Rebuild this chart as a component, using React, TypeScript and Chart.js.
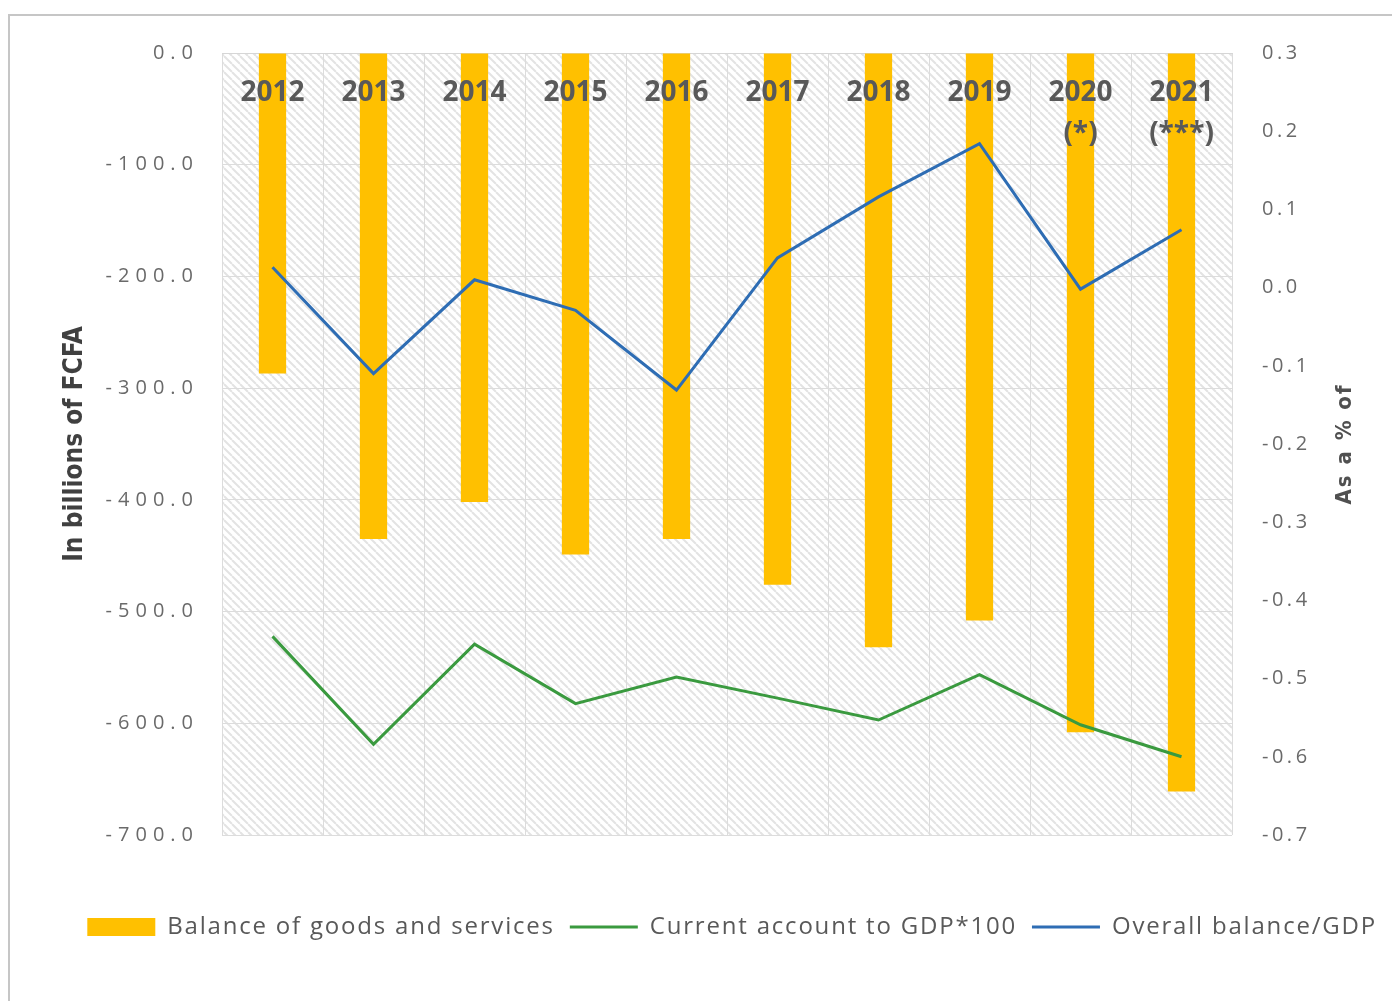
import React, { useEffect, useRef } from 'react';
import { Chart, registerables } from 'chart.js';

Chart.register(...registerables);

// ---------- data ----------
const years: (string | string[])[] = ['2012', '2013', '2014', '2015', '2016', '2017', '2018', '2019', ['2020', '(*)'], ['2021', '(***)']];
const balanceGoodsServices = [-287, -435, -402, -449, -435, -476, -532, -508, -608, -661];
const currentAccountGdp100 = [-0.446, -0.584, -0.456, -0.532, -0.498, -0.525, -0.553, -0.495, -0.559, -0.6];
const overallBalanceGdp = [0.026, -0.11, 0.01, -0.029, -0.131, 0.038, 0.116, 0.184, -0.002, 0.074];
const seriesNames = ['Balance of goods and services', 'Current account to GDP*100', 'Overall balance/GDP'];
const leftAxisRange = [-700, 0, 100];
const rightAxisRange = [-0.7, 0.3, 0.1];
const leftTitle = 'In billions of FCFA';
const rightTitle = 'As a % of';

const LS_LEGEND = '1.8px';
const LS_LEFT = '6px';
const LS_RIGHT = '3.5px';
const LS_X = '0px';

const fmt = (v: any) => {
  const n = Number(v);
  if (Math.abs(n) < 1e-9) return '0.0';
  return n.toFixed(1);
};

export default function App() {
  const ref = useRef<HTMLCanvasElement>(null);

  useEffect(() => {
    const canvas = ref.current!;
    const pc = document.createElement('canvas');
    pc.width = 8;
    pc.height = 8;
    const pctx = pc.getContext('2d')!;
    pctx.strokeStyle = '#e3e3e3';
    pctx.lineWidth = 2;
    for (const k of [-8, 0, 8]) {
      pctx.beginPath();
      pctx.moveTo(k, 0);
      pctx.lineTo(k + 8, 8);
      pctx.stroke();
    }

    const patchScale = (scale: any, ls: string) => {
      if (!scale || scale.__lsPatched) return;
      const orig = scale.drawLabels.bind(scale);
      scale.drawLabels = (area: any) => {
        const c = scale.ctx;
        const prev = c.letterSpacing;
        c.letterSpacing = ls;
        orig(area);
        c.letterSpacing = prev;
      };
      scale.__lsPatched = true;
    };

    const plugin = {
      id: 'customDeco',
      beforeLayout(chart: any) {
        chart.ctx.letterSpacing = LS_LEGEND;
      },
      beforeDraw(chart: any) {
        const ctx = chart.ctx;
        const a = chart.chartArea;
        const pattern = ctx.createPattern(pc, 'repeat');
        ctx.save();
        ctx.fillStyle = '#ffffff';
        ctx.fillRect(a.left, a.top, a.right - a.left, a.bottom - a.top);
        if (pattern) {
          ctx.fillStyle = pattern;
          ctx.fillRect(a.left, a.top, a.right - a.left, a.bottom - a.top);
        }
        ctx.restore();
        ctx.letterSpacing = LS_LEGEND;
        patchScale(chart.scales.x, LS_X);
        patchScale(chart.scales.y, LS_LEFT);
        patchScale(chart.scales.y1, LS_RIGHT);
      },
      afterDraw(chart: any) {
        const ctx = chart.ctx;
        const a = chart.chartArea;
        const cy = (a.top + a.bottom) / 2;
        ctx.save();
        ctx.letterSpacing = '0px';
        ctx.textAlign = 'center';
        ctx.textBaseline = 'middle';
        ctx.translate(75, cy);
        ctx.rotate(-Math.PI / 2);
        ctx.fillStyle = '#404040';
        ctx.font = 'bold 26px "DejaVu Sans Condensed", "Liberation Sans", sans-serif';
        ctx.fillText(leftTitle, 0, 0);
        ctx.restore();

        ctx.save();
        ctx.letterSpacing = '2px';
        ctx.textAlign = 'center';
        ctx.textBaseline = 'middle';
        ctx.translate(1345, cy);
        ctx.rotate(-Math.PI / 2);
        ctx.fillStyle = '#505050';
        ctx.font = 'bold 22px "DejaVu Sans Condensed", "Liberation Sans", sans-serif';
        ctx.fillText(rightTitle, 0, 0);
        ctx.restore();
      },
    };

    const tickFont = { family: '"Open Sans", sans-serif', size: 20 };

    const chart = new Chart(canvas, {
      type: 'bar',
      data: {
        labels: years as any,
        datasets: [
          {
            type: 'bar',
            label: seriesNames[0],
            data: balanceGoodsServices,
            backgroundColor: '#FFC000',
            borderWidth: 0,
            yAxisID: 'y',
            xAxisID: 'x',
            barPercentage: 0.27,
            categoryPercentage: 1,
            order: 2,
            pointStyle: 'rect',
          } as any,
          {
            type: 'line',
            label: seriesNames[1],
            data: currentAccountGdp100,
            borderColor: '#3A9A3F',
            backgroundColor: '#3A9A3F',
            borderWidth: 3,
            pointRadius: 0,
            pointStyle: 'line',
            tension: 0,
            fill: false,
            yAxisID: 'y1',
            xAxisID: 'x',
            order: 1,
          } as any,
          {
            type: 'line',
            label: seriesNames[2],
            data: overallBalanceGdp,
            borderColor: '#2E6DB4',
            backgroundColor: '#2E6DB4',
            borderWidth: 3,
            pointRadius: 0,
            pointStyle: 'line',
            tension: 0,
            fill: false,
            yAxisID: 'y1',
            xAxisID: 'x',
            order: 0,
          } as any,
        ],
      },
      options: {
        responsive: false,
        animation: false,
        devicePixelRatio: 1,
        layout: { padding: { left: 0, right: 0, top: 53, bottom: 52 } },
        plugins: {
          tooltip: { enabled: false },
          legend: {
            position: 'bottom',
            align: 'end',
            labels: {
              usePointStyle: true,
              pointStyleWidth: 68,
              boxHeight: 18,
              padding: 15,
              color: '#595959',
              font: { family: '"Open Sans", sans-serif', size: 24 },
              sort: (a: any, b: any) => a.datasetIndex - b.datasetIndex,
            },
          },
        },
        scales: {
          x: {
            type: 'category',
            position: { y: 0 } as any,
            offset: true,
            grid: { display: true, offset: true, color: '#dcdcdc', drawTicks: false },
            border: { display: true, color: '#d6d6d6' },
            ticks: {
              z: 1,
              padding: 20,
              color: '#595959',
              maxRotation: 0,
              autoSkip: false,
              font: { family: '"Open Sans", sans-serif', size: 28, weight: 'bold', lineHeight: 1.45 },
            },
            beforeUpdate: (s: any) => { s.ctx.letterSpacing = LS_X; },
            afterFit: (s: any) => { s.ctx.letterSpacing = LS_LEGEND; },
          } as any,
          x2: {
            type: 'category',
            position: 'bottom',
            labels: years as any,
            grid: { display: false },
            border: { display: false },
            ticks: { display: false },
            afterFit: (s: any) => { s.height = 65; },
          } as any,
          y: {
            type: 'linear',
            position: 'left',
            min: leftAxisRange[0],
            max: leftAxisRange[1],
            grid: { color: '#dcdcdc', drawTicks: false },
            border: { display: false },
            ticks: {
              stepSize: leftAxisRange[2],
              padding: 23,
              color: '#6a6a6a',
              font: tickFont,
              callback: (v: any) => fmt(v),
            },
            beforeUpdate: (s: any) => { s.ctx.letterSpacing = LS_LEFT; },
            afterFit: (s: any) => { s.width = 222; s.ctx.letterSpacing = LS_LEGEND; },
          } as any,
          y1: {
            type: 'linear',
            position: 'right',
            min: rightAxisRange[0],
            max: rightAxisRange[1],
            grid: { display: false, drawTicks: false },
            border: { display: false },
            ticks: {
              stepSize: rightAxisRange[2],
              padding: 30,
              color: '#6a6a6a',
              font: tickFont,
              callback: (v: any) => fmt(v),
            },
            beforeUpdate: (s: any) => { s.ctx.letterSpacing = LS_RIGHT; },
            afterFit: (s: any) => { s.width = 160; s.ctx.letterSpacing = LS_LEGEND; },
          } as any,
        },
      },
      plugins: [plugin as any],
    });

    return () => chart.destroy();
  }, []);

  return (
    <div style={{ position: 'absolute', left: 0, top: 0, width: 1392, height: 1001, overflow: 'hidden', background: '#ffffff' }}>
      <div
        style={{
          position: 'absolute',
          left: 8,
          top: 14,
          width: 1384,
          height: 987,
          borderTop: '2px solid #c6c6c6',
          borderLeft: '2px solid #c6c6c6',
          boxSizing: 'border-box',
        }}
      />
      <canvas ref={ref} width={1392} height={1001} style={{ position: 'absolute', left: 0, top: 0, width: 1392, height: 1001 }} />
    </div>
  );
}
